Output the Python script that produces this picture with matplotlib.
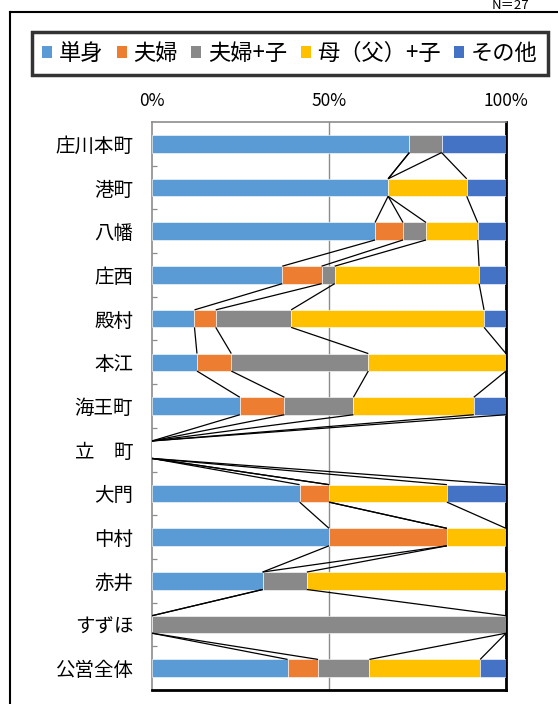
import matplotlib
matplotlib.use("Agg")
import matplotlib.pyplot as plt
from matplotlib.lines import Line2D
from matplotlib.patches import Patch
import numpy as np

plt.rcParams['font.family'] = ['Noto Sans CJK JP', 'DejaVu Sans']

categories = ["庄川本町", "港町", "八幡", "庄西", "殿村", "本江", "海王町",
              "立　町", "大門", "中村", "赤井", "すずほ", "公営全体"]
series_names = ["単身", "夫婦", "夫婦+子", "母（父）+子", "その他"]
tanshin = [72.7, 66.7, 63.0, 36.8, 12.0, 12.7, 24.8, 0, 41.7, 50.0, 31.25, 0, 38.3]
fufu = [0, 0, 7.9, 11.1, 6.0, 9.7, 12.6, 0, 8.3, 33.3, 0, 0, 8.6]
fufu_ko = [9.1, 0, 6.5, 3.7, 21.3, 38.7, 19.5, 0, 0, 0, 12.5, 100, 14.5]
boshi = [0, 22.2, 14.6, 40.8, 54.5, 38.9, 34.0, 0, 33.3, 16.7, 56.25, 0, 31.3]
sonota = [18.2, 11.1, 8.0, 7.6, 6.2, 0, 9.1, 0, 16.7, 0, 0, 0, 7.3]
xtick_vals = [0, 50, 100]
xtick_labels = ["0%", "50%", "100%"]
colors = ["#5B9BD5", "#ED7D31", "#898989", "#FFC000", "#4472C4"]

W, H = 558, 704
fig = plt.figure(figsize=(W / 100, H / 100), dpi=100)
ax = fig.add_axes([152 / W, 1 - 690 / H, 354 / W, 568 / H])

data = np.array([tanshin, fufu, fufu_ko, boshi, sonota], dtype=float)
n = len(categories)
y = np.arange(n)
bh = 0.4
left = np.zeros(n)
cums = []
for vals, c, name in zip(data, colors, series_names):
    ax.barh(y, vals, left=left, height=bh, color=c, edgecolor="white",
            linewidth=0.4, label=name, zorder=3)
    left = left + vals
    cums.append(left.copy())

# series lines
for cum in cums:
    for i in range(n - 1):
        ax.plot([cum[i], cum[i + 1]], [i + bh / 2, i + 1 - bh / 2],
                color="black", lw=0.9, zorder=4, solid_capstyle="butt")

ax.set_xlim(0, 100)
ax.set_ylim(n - 0.5, -0.5)
ax.axvline(50, color="#8c8c8c", lw=1.0, zorder=1)

ax.xaxis.tick_top()
ax.set_xticks(xtick_vals)
ax.set_xticklabels(xtick_labels, fontsize=12.5)
ax.tick_params(axis="x", length=0, pad=9)

ax.set_yticks(y)
ax.set_yticklabels(categories, fontsize=14)
ax.tick_params(axis="y", which="major", length=0, pad=13.5)
ax.set_yticks(np.arange(0.5, n - 1, 1.0), minor=True)
ax.tick_params(axis="y", which="minor", direction="in", length=3.5,
               color="#8c8c8c", width=0.9)

for s in ["top", "left"]:
    ax.spines[s].set_color("#8c8c8c")
    ax.spines[s].set_linewidth(1.2)
for s in ["right", "bottom"]:
    ax.spines[s].set_color("black")
    ax.spines[s].set_linewidth(2.0)

handles = [Patch(facecolor=c, edgecolor="none") for c in colors]
leg = fig.legend(handles, series_names, loc="center",
                 bbox_to_anchor=(290 / W, 1 - 53 / H), ncol=5, fontsize=16,
                 frameon=True, fancybox=False, handlelength=0.45,
                 handleheight=0.45, handletextpad=0.3, columnspacing=0.6,
                 borderpad=0.45, borderaxespad=0)
leg.get_frame().set_edgecolor("black")
leg.get_frame().set_linewidth(2.5)

# outer frame (partially visible)
fig.add_artist(Line2D([9.5 / W, 9.5 / W], [1 - 12 / H, 0], transform=fig.transFigure,
                      color="black", lw=1.5))
fig.add_artist(Line2D([9.5 / W, 1.0], [1 - 12 / H, 1 - 12 / H], transform=fig.transFigure,
                      color="black", lw=1.5))
fig.text(492 / W, 1 - 12 / H, "N＝27", fontsize=9.5, ha="left", va="bottom")

fig.savefig("out.png", dpi=100)
